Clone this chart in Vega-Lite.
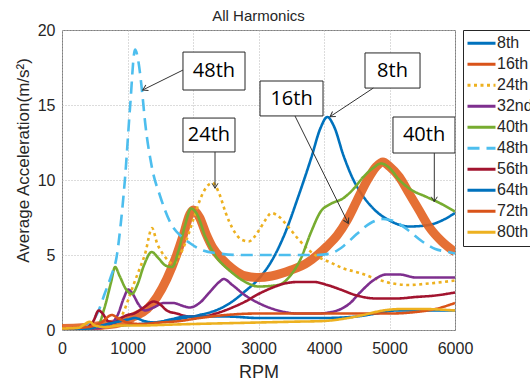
{
  "$schema": "https://vega.github.io/schema/vega-lite/v6.json",
  "autosize": {"type": "none"},
  "padding": {"left": 62, "top": 30, "right": 75, "bottom": 52},
  "width": 393,
  "height": 300,
  "background": "white",
  "title": {"text": "All Harmonics", "fontSize": 15, "fontWeight": "normal", "font": "Liberation Sans", "color": "#262626", "offset": -2},
  "datasets": {
    "curves": [
      {"h": "8th", "rpm": [0,300,600,900,1200,1500,1800,2100,2400,2600,2800,3000,3200,3400,3600,3800,3950,4050,4150,4300,4450,4600,4800,5000,5300,5600,5800,6000],
       "a": [0.05,0.1,0.2,0.3,0.4,0.55,0.75,1.0,1.4,1.9,2.6,3.4,4.6,6.4,8.8,11.4,13.5,14.2,13.6,11.6,10.0,8.9,7.9,7.3,6.9,7.0,7.3,7.8]},
      {"h": "16th", "rpm": [0,300,600,900,1100,1300,1450,1600,1750,1850,1950,2000,2100,2200,2300,2450,2600,2800,3000,3200,3500,3750,3900,4050,4200,4350,4500,4650,4800,4900,5000,5150,5300,5450,5600,5800,6000],
       "a": [0.1,0.15,0.3,0.5,0.9,1.4,2.2,3.4,5.0,6.3,7.7,8.0,7.5,6.4,5.5,4.7,4.1,3.6,3.5,3.6,4.0,4.5,5.0,5.6,6.3,7.3,8.6,9.9,10.9,11.2,10.9,10.2,9.1,8.0,6.9,5.9,5.2]},
      {"h": "24th", "rpm": [0,500,700,800,930,1010,1090,1160,1270,1375,1450,1570,1700,1800,1900,2000,2100,2200,2300,2400,2500,2600,2750,2850,3000,3100,3200,3300,3450,3600,3750,3900,4100,4300,4550,4800,5050,5300,5600,6000],
       "a": [0.05,0.1,0.3,0.5,1.1,2.0,3.0,3.8,5.1,6.8,5.8,4.9,4.4,5.0,6.0,7.3,8.6,9.5,9.8,9.1,7.8,6.8,6.0,5.9,6.6,7.3,7.8,7.6,6.9,6.1,5.4,4.9,4.5,4.1,3.8,3.4,3.1,3.0,3.1,3.3]},
      {"h": "32nd", "rpm": [0,500,700,850,950,1010,1080,1170,1270,1400,1550,1700,1850,1950,2100,2250,2400,2470,2600,2800,3000,3300,3600,3900,4200,4400,4550,4750,4950,5150,5400,5700,6000],
       "a": [0.05,0.1,0.3,1.0,2.2,2.7,2.4,1.7,1.3,1.5,1.8,1.8,1.6,1.5,1.8,2.5,3.2,3.4,3.0,2.3,1.8,1.3,1.1,1.1,1.3,1.8,2.5,3.3,3.7,3.7,3.5,3.5,3.5]},
      {"h": "40th", "rpm": [0,400,550,650,750,810,880,980,1070,1150,1250,1370,1470,1580,1680,1780,1880,1970,2050,2200,2350,2550,2800,3000,3300,3500,3650,3800,3950,4100,4300,4450,4600,4750,4870,5000,5150,5350,5550,5750,6000],
       "a": [0.05,0.1,0.3,1.5,3.2,4.2,3.6,2.7,2.4,3.0,4.3,5.2,4.8,4.3,4.2,5.3,7.0,8.1,7.8,6.1,4.9,4.0,3.2,2.9,3.0,3.7,4.8,6.5,7.9,8.4,8.8,9.4,10.2,10.8,11.1,10.8,10.0,9.3,8.9,8.5,7.9]},
      {"h": "48th", "rpm": [0,300,450,550,650,750,835,900,960,1040,1115,1170,1220,1270,1370,1500,1650,1830,1950,2150,2400,2700,3000,3300,3600,3900,4100,4300,4500,4700,4900,5100,5300,5500,5700,5900,6000],
       "a": [0.05,0.1,0.5,1.2,2.4,3.6,4.9,7.2,10.0,14.9,18.7,17.8,16.0,13.8,10.9,8.9,7.2,6.2,5.8,5.3,5.1,5.0,5.0,5.0,5.0,5.0,5.1,5.6,6.4,7.1,7.4,7.2,6.6,5.9,5.4,5.2,5.1]},
      {"h": "56th", "rpm": [0,350,480,560,620,700,800,900,1000,1100,1250,1400,1500,1600,1750,1950,2150,2350,2600,2800,3000,3200,3400,3600,3850,4050,4250,4500,4800,5100,5400,5700,6000],
       "a": [0.05,0.1,0.6,1.3,1.1,0.6,0.5,0.8,1.0,1.1,1.5,1.9,1.7,1.3,1.1,0.9,0.9,1.1,1.5,1.9,2.4,2.8,3.1,3.2,3.2,3.0,2.7,2.3,2.1,2.1,2.2,2.3,2.5]},
      {"h": "64th", "rpm": [0,400,600,800,1000,1120,1250,1420,1650,1900,2200,2500,3000,3500,4000,4500,4800,5100,5500,6000],
       "a": [0.05,0.1,0.3,0.5,0.7,0.8,0.6,0.5,0.7,0.9,0.9,0.9,0.8,0.8,0.8,0.9,1.1,1.3,1.3,1.3]},
      {"h": "72th", "rpm": [0,400,600,760,850,1000,1200,1500,1800,2100,2500,3000,3500,4000,4500,5000,5400,5700,6000],
       "a": [0.1,0.2,0.5,1.0,0.8,0.5,0.4,0.5,0.6,0.8,1.0,1.1,1.1,1.1,1.1,1.1,1.2,1.4,1.8]},
      {"h": "80th", "rpm": [0,250,350,420,500,650,900,1200,1600,2000,2500,3000,3500,4000,4300,4600,4900,5200,5500,6000],
       "a": [0.1,0.15,0.4,0.55,0.3,0.2,0.3,0.3,0.35,0.4,0.45,0.5,0.55,0.6,0.75,1.0,1.3,1.4,1.4,1.3]}
    ],
    "notes": [
      {"label": "48th", "bx0": 1847, "bx1": 2794, "by0": 16.0, "by1": 18.53, "cx": 2320, "cy": 17.27, "ax0": 1847, "ay0": 17.33, "ax1": 1232, "ay1": 16.0},
      {"label": "24th", "bx0": 1847, "bx1": 2641, "by0": 11.87, "by1": 14.13, "cx": 2244, "cy": 13.0, "ax0": 2336, "ay0": 11.87, "ax1": 2336, "ay1": 9.45},
      {"label": "8th", "bx0": 4626, "bx1": 5466, "by0": 16.13, "by1": 18.47, "cx": 5046, "cy": 17.3, "ax0": 4753, "ay0": 16.13, "ax1": 4092, "ay1": 14.22},
      {"label": "16th", "bx0": 3023, "bx1": 3985, "by0": 14.27, "by1": 16.6, "cx": 3504, "cy": 15.43, "ax0": 3557, "ay0": 14.27, "ax1": 4371, "ay1": 7.11},
      {"label": "40th", "bx0": 5053, "bx1": 6000, "by0": 11.8, "by1": 14.2, "cx": 5527, "cy": 13.0, "ax0": 5684, "ay0": 11.8, "ax1": 5684, "ay1": 8.55}
    ]
  },
  "encoding": {
    "x": {"field": "rpm", "type": "quantitative", "title": "RPM",
          "scale": {"domain": [0, 6000], "nice": false},
          "axis": {"values": [0,1000,2000,3000,4000,5000,6000], "format": "d", "labelFlush": false, "labelPadding": 10, "titlePadding": 7, "titleFontSize": 18}},
    "y": {"field": "a", "type": "quantitative", "title": "Average Acceleration(m/s²)",
          "scale": {"domain": [0, 20], "nice": false},
          "axis": {"values": [0,5,10,15,20], "labelFlush": false, "labelPadding": 7, "titlePadding": 5, "titleY": 130, "titleAlign": "center"}}
  },
  "layer": [
    {
      "data": {"name": "curves"},
      "transform": [{"filter": "datum.h === '8th'"}, {"flatten": ["rpm", "a"]}],
      "mark": {"type": "line", "interpolate": "monotone", "strokeWidth": 2.6, "clip": true},
      "encoding": {
        "color": {"field": "h", "type": "nominal", "title": null,
          "scale": {"domain": ["8th","16th","24th","32nd","40th","48th","56th","64th","72th","80th"],
                    "range": ["#0072BD","#D95319","#EDB120","#7E2F8E","#77AC30","#4DBEEE","#A2142F","#0072BD","#D95319","#EDB120"]}},
        "strokeDash": {"field": "h", "type": "nominal", "title": null,
          "scale": {"domain": ["8th","16th","24th","32nd","40th","48th","56th","64th","72th","80th"],
                    "range": [[1,0],[1,0],[3,3.5],[1,0],[1,0],[12,7],[1,0],[1,0],[1,0],[1,0]]}}
      }
    },
    {
      "data": {"name": "curves"},
      "transform": [{"filter": "datum.h === '16th'"}, {"flatten": ["rpm", "a"]}],
      "mark": {"type": "line", "interpolate": "monotone", "strokeWidth": 9, "color": "#E2601F", "opacity": 0.9, "clip": true},
      "encoding": {}
    },
    {
      "data": {"name": "curves"},
      "transform": [{"filter": "datum.h !== '8th' && datum.h !== '16th'"}, {"flatten": ["rpm", "a"]}],
      "mark": {"type": "line", "interpolate": "monotone", "strokeWidth": 2.6, "clip": true},
      "encoding": {
        "color": {"field": "h", "type": "nominal"},
        "strokeDash": {"field": "h", "type": "nominal"}
      }
    },
    {
      "data": {"name": "notes"},
      "mark": {"type": "rect", "fill": "white", "stroke": "#262626", "strokeWidth": 1, "clip": true},
      "encoding": {
        "x": {"field": "bx0", "type": "quantitative"},
        "x2": {"field": "bx1"},
        "y": {"field": "by0", "type": "quantitative"},
        "y2": {"field": "by1"}
      }
    },
    {
      "data": {"name": "notes"},
      "mark": {"type": "text", "font": "Open Sans", "fontSize": 20, "color": "black", "baseline": "middle", "align": "center"},
      "encoding": {
        "x": {"field": "cx", "type": "quantitative"},
        "y": {"field": "cy", "type": "quantitative"},
        "text": {"field": "label"}
      }
    },
    {
      "data": {"name": "notes"},
      "mark": {"type": "rule", "color": "#333333", "strokeWidth": 1},
      "encoding": {
        "x": {"field": "ax0", "type": "quantitative"},
        "y": {"field": "ay0", "type": "quantitative"},
        "x2": {"field": "ax1"},
        "y2": {"field": "ay1"}
      }
    },
    {
      "data": {"name": "notes"},
      "transform": [
        {"calculate": "atan2(-(datum.ay1 - datum.ay0) * 300 / 20, (datum.ax1 - datum.ax0) * 393 / 6000) * 180 / PI", "as": "dir"}
      ],
      "mark": {"type": "point", "shape": "M-1,-0.6L0,0L-1,0.6", "filled": false, "stroke": "#333333", "strokeWidth": 1, "size": 100, "opacity": 1},
      "encoding": {
        "x": {"field": "ax1", "type": "quantitative"},
        "y": {"field": "ay1", "type": "quantitative"},
        "angle": {"field": "dir", "type": "quantitative", "scale": null}
      }
    }
  ],
  "resolve": {"legend": {"color": "shared", "strokeDash": "shared"}},
  "config": {
    "view": {"stroke": "#7f7f7f", "strokeWidth": 1},
    "font": "Liberation Sans",
    "axis": {
      "domain": false, "ticks": false, "grid": true, "gridDash": [1, 2], "gridColor": "#b8b8b8",
      "labelFont": "Liberation Sans", "labelFontSize": 16, "labelColor": "#262626",
      "titleFont": "Liberation Sans", "titleFontSize": 17, "titleFontWeight": "normal", "titleColor": "#262626"
    },
    "legend": {
      "orient": "none", "legendX": 401, "legendY": 0,
      "symbolType": "stroke", "symbolSize": 784, "symbolStrokeWidth": 3,
      "labelFont": "Liberation Sans", "labelFontSize": 16, "labelColor": "#262626", "labelOffset": 0,
      "clipHeight": 20.5,
      "strokeColor": "#262626", "fillColor": "white", "padding": 3, "rowPadding": 0, "cornerRadius": 0
    }
  }
}
